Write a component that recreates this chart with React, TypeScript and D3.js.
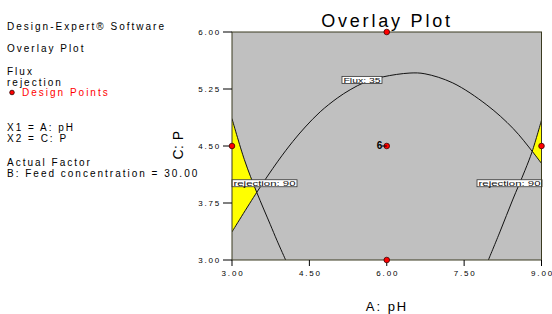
import React, { useEffect, useRef } from "react";
import * as d3 from "d3";

// contour lines, [pH, P]
const fluxContour: [number, number][] = [
  [3.0, 3.37], [3.48, 3.89], [3.89, 4.3], [4.18, 4.56], [4.42, 4.75],
  [4.71, 4.95], [5.04, 5.13], [5.29, 5.24], [5.58, 5.34], [5.93, 5.41],
  [6.45, 5.46], [6.74, 5.45], [7.28, 5.33], [7.94, 5.04], [8.45, 4.73],
  [8.82, 4.43], [9.0, 4.27]
];

const rejectionLeft: [number, number][] = [
  [3.0, 4.86], [3.24, 4.32], [3.48, 3.89], [3.74, 3.47], [3.87, 3.26], [4.04, 3.0]
];

const rejectionRight: [number, number][] = [
  [7.97, 3.0], [8.2, 3.38], [8.44, 3.79], [8.68, 4.18], [8.82, 4.43], [9.0, 4.84]
];

const designPoints = [
  { ph: 6.0, p: 6.0, n: 1 },
  { ph: 3.0, p: 4.5, n: 1 },
  { ph: 9.0, p: 4.5, n: 1 },
  { ph: 6.0, p: 4.5, n: 6 },
  { ph: 6.0, p: 3.0, n: 1 }
];

const contourLabels = [
  { text: "Flux: 35", ph: 5.52, p: 5.37 },
  { text: "rejection: 90", ph: 3.63, p: 4.01 },
  { text: "rejection: 90", ph: 8.38, p: 4.01 }
];

const xTicks = [3.0, 4.5, 6.0, 7.5, 9.0];
const yTicks = [3.0, 3.75, 4.5, 5.25, 6.0];

const infoLines = [
  "Design-Expert® Software",
  "Overlay Plot",
  "Flux",
  "rejection",
  "Design Points",
  "X1 = A: pH",
  "X2 = C: P",
  "Actual Factor",
  "B: Feed concentration = 30.00"
];

const FONT = "Arial, 'Liberation Sans', sans-serif";

const App: React.FC = () => {
  const svgRef = useRef<SVGSVGElement>(null);

  useEffect(() => {
    if (!svgRef.current) return;
    const svg = d3.select(svgRef.current);
    svg.selectAll("*").remove();

    const left = 232, right = 541.5, top = 32, bottom = 260;

    const x = d3.scaleLinear().domain([3, 9]).range([left, right]);
    const y = d3.scaleLinear().domain([3, 6]).range([bottom, top]);

    const line = d3
      .line<[number, number]>()
      .x(d => x(d[0]))
      .y(d => y(d[1]))
      .curve(d3.curveCatmullRom.alpha(0.5));

    const defs = svg.append("defs");
    defs.append("clipPath").attr("id", "plotClip")
      .append("rect")
      .attr("x", left).attr("y", top)
      .attr("width", right - left).attr("height", bottom - top);

    // region above the flux contour
    defs.append("clipPath").attr("id", "aboveFlux")
      .append("path")
      .attr("d", line(fluxContour) + `L${x(9)},${y(6)}L${x(3)},${y(6)}Z`);

    // plot background
    svg.append("rect")
      .attr("x", left).attr("y", top)
      .attr("width", right - left).attr("height", bottom - top)
      .attr("fill", "#c0c0c0");

    // yellow feasible regions
    const yellow = svg.append("g").attr("clip-path", "url(#plotClip)")
      .append("g").attr("clip-path", "url(#aboveFlux)");
    yellow.append("path")
      .attr("d", line(rejectionLeft) + `L${x(3)},${y(3)}Z`)
      .attr("fill", "#ffff00");
    yellow.append("path")
      .attr("d", line(rejectionRight) + `L${x(9)},${y(3)}Z`)
      .attr("fill", "#ffff00");

    // contour lines
    const curves = svg.append("g").attr("clip-path", "url(#plotClip)");
    [fluxContour, rejectionLeft, rejectionRight].forEach(c => {
      curves.append("path")
        .attr("d", line(c))
        .attr("fill", "none")
        .attr("stroke", "#111")
        .attr("stroke-width", 1);
    });

    // contour labels
    contourLabels.forEach(l => {
      const w = l.text.length * 5;
      const cx = Math.min(Math.max(x(l.ph), left + w / 2), right - w / 2 + 1);
      const g = svg.append("g");
      g.append("rect")
        .attr("x", cx - w / 2).attr("y", y(l.p) - 3.5)
        .attr("width", w).attr("height", 7)
        .attr("fill", "#fff")
        .attr("stroke", "#333")
        .attr("stroke-width", 0.8);
      g.append("text")
        .attr("x", cx - w / 2 + 1.5).attr("y", y(l.p) + 2.8)
        .attr("textLength", w - 3)
        .attr("lengthAdjust", "spacingAndGlyphs")
        .style("font-family", FONT)
        .style("font-size", "7.5px")
        .attr("fill", "#111")
        .text(l.text);
    });

    // plot border
    svg.append("rect")
      .attr("x", left).attr("y", top)
      .attr("width", right - left).attr("height", bottom - top)
      .attr("fill", "none")
      .attr("stroke", "#3a3a20")
      .attr("stroke-width", 1);

    // Y AXIS
    yTicks.forEach(t => {
      svg.append("line")
        .attr("x1", left - 9).attr("x2", left)
        .attr("y1", y(t)).attr("y2", y(t))
        .attr("stroke", "#000");
      svg.append("text")
        .attr("x", left - 11).attr("y", y(t) + 3)
        .attr("text-anchor", "end")
        .style("font-family", FONT)
        .style("font-size", "8px")
        .style("letter-spacing", "1.8px")
        .text(d3.format(".2f")(t));
    });

    // X AXIS
    xTicks.forEach(t => {
      svg.append("line")
        .attr("x1", x(t)).attr("x2", x(t))
        .attr("y1", bottom).attr("y2", bottom + 6)
        .attr("stroke", "#000");
      svg.append("text")
        .attr("x", x(t) + 1).attr("y", bottom + 16)
        .attr("text-anchor", "middle")
        .style("font-family", FONT)
        .style("font-size", "8px")
        .style("letter-spacing", "1.8px")
        .text(d3.format(".2f")(t));
    });

    // design points
    designPoints.forEach(d => {
      svg.append("circle")
        .attr("cx", x(d.ph)).attr("cy", y(d.p))
        .attr("r", 2.8)
        .attr("fill", "#ff0000")
        .attr("stroke", "#400000")
        .attr("stroke-width", 0.8);
      if (d.n > 1) {
        svg.append("text")
          .attr("x", x(d.ph) - 4.5).attr("y", y(d.p) + 3)
          .attr("text-anchor", "end")
          .style("font-family", FONT)
          .style("font-size", "10px")
          .style("font-weight", "bold")
          .text(d.n);
        svg.append("line")
          .attr("x1", x(d.ph) - 5).attr("x2", x(d.ph))
          .attr("y1", y(d.p)).attr("y2", y(d.p))
          .attr("stroke", "#000");
      }
    });

    // TITLE
    svg.append("text")
      .attr("x", 387).attr("y", 27)
      .attr("text-anchor", "middle")
      .style("font-family", FONT)
      .style("font-size", "18px")
      .style("letter-spacing", "2.8px")
      .text("Overlay Plot");

    // axis titles
    svg.append("text")
      .attr("x", 387).attr("y", 311)
      .attr("text-anchor", "middle")
      .style("font-family", FONT)
      .style("font-size", "13px")
      .style("letter-spacing", "2px")
      .text("A: pH");

    svg.append("text")
      .attr("transform", "translate(183,145) rotate(-90)")
      .attr("text-anchor", "middle")
      .style("font-family", FONT)
      .style("font-size", "14px")
      .style("letter-spacing", "0.5px")
      .text("C: P");

    // info panel
    const baselines = [29.5, 52, 75, 85.5, 95.5, 131, 142, 165.5, 176.5];
    infoLines.forEach((t, i) => {
      const isLegend = t === "Design Points";
      svg.append("text")
        .attr("x", isLegend ? 22 : 7).attr("y", baselines[i])
        .style("font-family", FONT)
        .style("font-size", "10px")
        .style("letter-spacing", "2px")
        .attr("fill", isLegend ? "#ff0000" : "#000")
        .text(t);
      if (isLegend) {
        svg.append("circle")
          .attr("cx", 12).attr("cy", baselines[i] - 3)
          .attr("r", 2.3)
          .attr("fill", "#ff0000")
          .attr("stroke", "#300000")
          .attr("stroke-width", 0.8);
      }
    });
  }, []);

  return (
    <svg
      ref={svgRef}
      width={552}
      height={314}
      style={{ position: "absolute", left: 0, top: 0, background: "#fff" }}
    />
  );
};

export default App;
